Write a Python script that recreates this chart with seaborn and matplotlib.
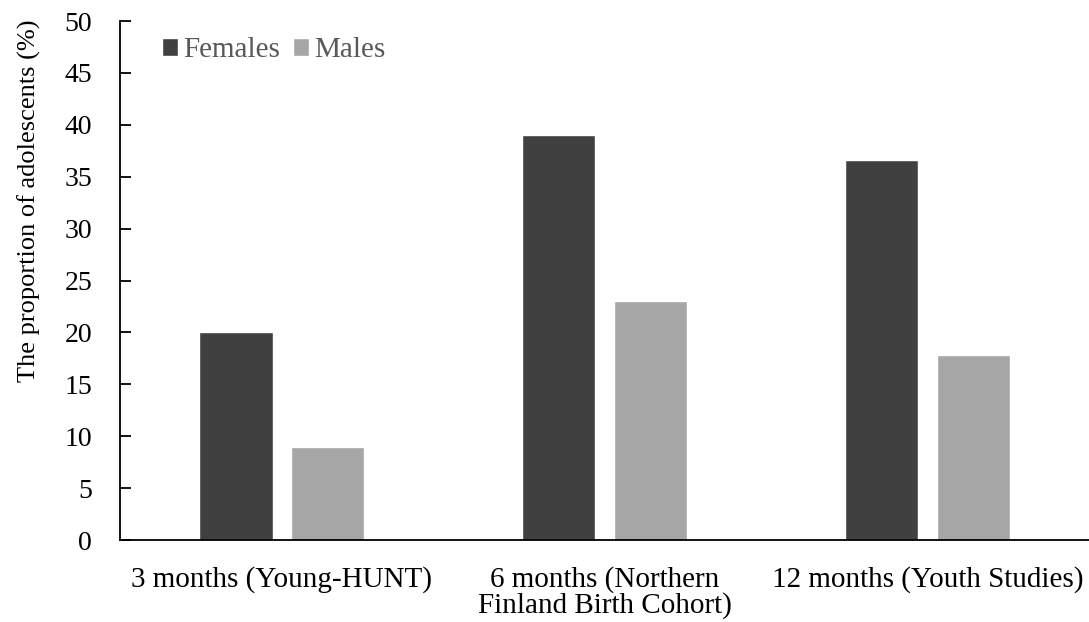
import numpy as np
import pandas as pd
import matplotlib
matplotlib.use("Agg")
import matplotlib.pyplot as plt
import seaborn as sns

# data
studies = ["3 months (Young-HUNT)", "6 months (Northern\nFinland Birth Cohort)", "12 months (Youth Studies)"]
females = [20.0, 39.0, 36.6]
males = [9.0, 23.0, 17.8]
groups = ["Females", "Males"]
yticks = [0, 5, 10, 15, 20, 25, 30, 35, 40, 45, 50]

df = pd.DataFrame({
    "study": studies * 2,
    "sex": ["Females"] * 3 + ["Males"] * 3,
    "pct": females + males,
})

sns.set_style("white")
plt.rcParams["font.family"] = ["Liberation Serif", "DejaVu Serif"]

fig = plt.figure(figsize=(10.89, 6.22), dpi=100)
ax = fig.add_axes([0.1102, 0.1318, 0.8898, 0.8344])

sns.barplot(data=df, x="study", y="pct", hue="sex", order=studies, hue_order=groups,
            palette=["#404040", "#a6a6a6"], width=0.569, gap=0.196,
            saturation=1, ax=ax)

ax.set_ylim(0, 50)
ax.set_xlim(-0.5, 2.5)
ax.set_yticks(yticks)
ax.set_yticklabels([str(t) for t in yticks], fontsize=20, color="black")
ax.tick_params(axis="y", left=True, direction="in", length=8, width=1.3, color="black", pad=20)
ax.tick_params(axis="x", length=0, pad=19)
for lab in ax.get_xticklabels():
    lab.set_fontsize(21)
    lab.set_color("black")
    lab.set_multialignment("center")
    lab.set_linespacing(0.95)
ax.set_xlabel("")
ax.set_ylabel("The proportion of adolescents (%)", fontsize=19, color="black")
ax.yaxis.set_label_coords(-0.082, 0.653)

sns.despine(ax=ax)
for s in ["left", "bottom"]:
    ax.spines[s].set_color("black")
    ax.spines[s].set_linewidth(1.3)

leg = ax.legend(loc="center left", bbox_to_anchor=(0.0433, 0.944), ncol=2, frameon=False,
                fontsize=21, handlelength=0.55, handleheight=0.55, handletextpad=0.17,
                columnspacing=0.45, borderaxespad=0, borderpad=0)
for t in leg.get_texts():
    t.set_color("#595959")

fig.savefig("out.png", dpi=100)
